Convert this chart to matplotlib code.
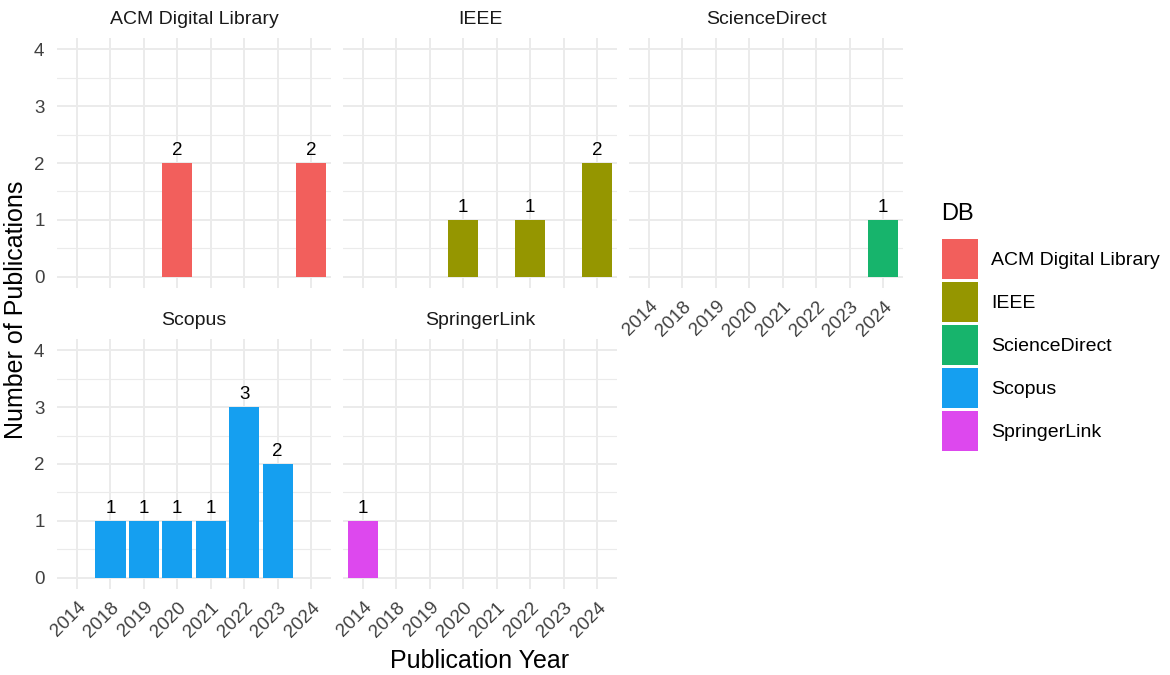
import matplotlib
matplotlib.use("Agg")
import matplotlib.pyplot as plt
from matplotlib.patches import Patch

plt.rcParams['font.family'] = ['Liberation Sans', 'DejaVu Sans']

years = ['2014', '2018', '2019', '2020', '2021', '2022', '2023', '2024']
dbs = ['ACM Digital Library', 'IEEE', 'ScienceDirect', 'Scopus', 'SpringerLink']
acm = [0, 0, 0, 2, 0, 0, 0, 2]
ieee = [0, 0, 0, 1, 0, 1, 0, 2]
sciencedirect = [0, 0, 0, 0, 0, 0, 0, 1]
scopus = [0, 1, 1, 1, 1, 3, 2, 0]
springer = [1, 0, 0, 0, 0, 0, 0, 0]
series = [acm, ieee, sciencedirect, scopus, springer]
colors = ['#F25F5C', '#959600', '#17B46C', '#159FF0', '#DD48EE']
yticks = [0, 1, 2, 3, 4]

W, H = 1170, 675
fig = plt.figure(figsize=(W / 100, H / 100), dpi=100)


def px_axes(x0, y0, x1, y1):
    return fig.add_axes([x0 / W, 1 - y1 / H, (x1 - x0) / W, (y1 - y0) / H])


cols = [(57, 331), (343, 617), (629, 903)]
rows = [(38, 288), (339, 589)]
layout = [(0, 0), (0, 1), (0, 2), (1, 0), (1, 1)]
xlab_panels = {2, 3, 4}
ylab_panels = {0, 3}

grid_c = '#EBEBEB'
fs_tick = 13.5
for i, (db, vals, col) in enumerate(zip(dbs, series, colors)):
    r, c = layout[i]
    x0, x1 = cols[c]
    y0, y1 = rows[r]
    ax = px_axes(x0, y0, x1, y1)
    ax.set_xlim(-0.6, len(years) - 1 + 0.6)
    ax.set_ylim(-0.2, 4.2)
    for s in ax.spines.values():
        s.set_visible(False)
    for k in range(len(years)):
        ax.axvline(k, color=grid_c, lw=1.4, zorder=0)
    for yv in yticks:
        ax.axhline(yv, color=grid_c, lw=1.4, zorder=0)
    for yv in [0.5, 1.5, 2.5, 3.5]:
        ax.axhline(yv, color=grid_c, lw=0.8, zorder=0)
    xs = [k for k, v in enumerate(vals) if v > 0]
    hs = [v for v in vals if v > 0]
    ax.bar(xs, hs, width=0.9, color=col, zorder=2)
    for xk, hv in zip(xs, hs):
        ax.annotate(str(hv), (xk, hv), xytext=(0, 3), textcoords='offset points',
                    ha='center', va='bottom', fontsize=13.5, color='black')
    ax.set_xticks(range(len(years)))
    ax.set_yticks(yticks)
    ax.tick_params(length=0)
    if i in xlab_panels:
        ax.set_xticklabels(years, rotation=45, ha='right', va='top',
                           rotation_mode='anchor', fontsize=fs_tick, color='#404040')
        ax.tick_params(axis='x', pad=7)
    else:
        ax.set_xticklabels([])
    if i in ylab_panels:
        ax.set_yticklabels([str(v) for v in yticks], fontsize=fs_tick, color='#404040')
        ax.tick_params(axis='y', pad=9)
    else:
        ax.set_yticklabels([])
    ax.text(0.5, 1 + 10 / (y1 - y0), db, transform=ax.transAxes, ha='center',
            va='bottom', fontsize=14, color='#1A1A1A')

fig.text(480 / W, 1 - 661 / H, 'Publication Year', ha='center', va='center', fontsize=18)
fig.text(16 / W, 1 - 310 / H, 'Number of Publications', ha='center', va='center',
         rotation=90, fontsize=18)

fig.text(941 / W, 1 - 214 / H, 'DB', ha='left', va='center', fontsize=17)
handles = [Patch(facecolor=c, edgecolor='none') for c in colors]
leg = fig.legend(handles, dbs, loc='upper left', bbox_to_anchor=(942 / W, 1 - 239 / H),
                 frameon=False, fontsize=14,
                 handlelength=1.85, handleheight=2.79, labelspacing=0.155,
                 handletextpad=0.67, borderpad=0, borderaxespad=0)

fig.savefig('out.png', dpi=100)
